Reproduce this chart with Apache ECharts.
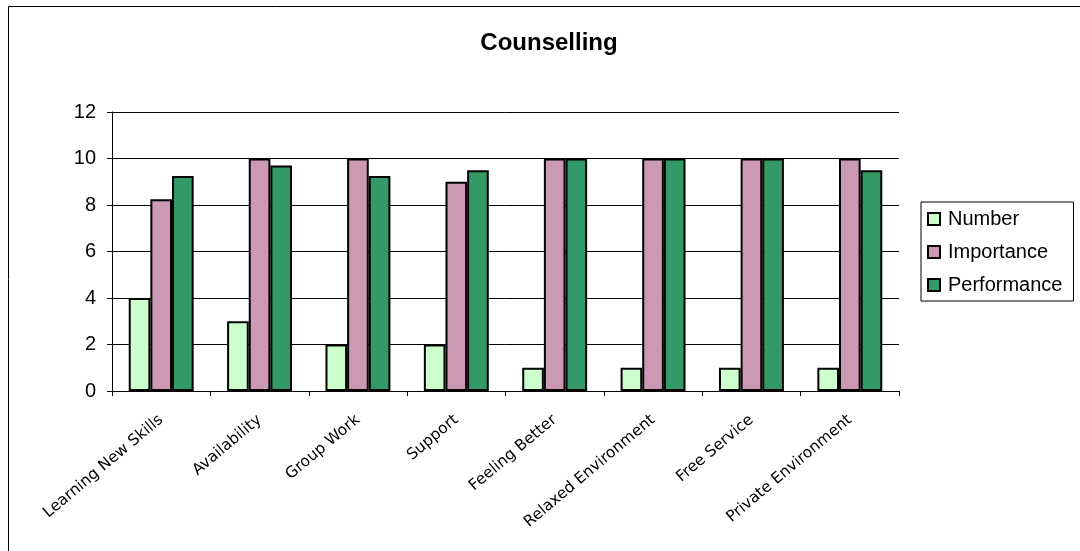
<!DOCTYPE html>
<html>
<head>
<meta charset="utf-8">
<title>Counselling</title>
<script src="https://cdn.jsdelivr.net/npm/echarts@6/dist/echarts.min.js"></script>
<style>
  html, body { margin: 0; padding: 0; background: #fff; }
  #main { width: 1080px; height: 551px; }
</style>
</head>
<body>
<div id="main"></div>
<script>
var categories = ['Learning New Skills', 'Availability', 'Group Work', 'Support',
  'Feeling Better', 'Relaxed Environment', 'Free Service', 'Private Environment'];
var numberValues = [4, 3, 2, 2, 1, 1, 1, 1];
var importanceValues = [8.25, 10, 10, 9, 10, 10, 10, 10];
var performanceValues = [9.25, 9.7, 9.25, 9.5, 10, 10, 10, 9.5];
var seriesNames = ['Number', 'Importance', 'Performance'];
var seriesColors = ['#CCFFCC', '#CC99B4', '#339966'];

var chart = echarts.init(document.getElementById('main'));

var allValues = [numberValues, importanceValues, performanceValues];
var series = seriesNames.map(function (name, i) {
  return {
    name: name,
    type: 'bar',
    data: allValues[i],
    barGap: '0%',
    barCategoryGap: '34%',
    itemStyle: { color: seriesColors[i], borderColor: '#000', borderWidth: 2 }
  };
});

chart.setOption({
  animation: false,
  title: {
    text: 'Counselling',
    left: 544,
    top: 26,
    textAlign: 'center',
    textStyle: { fontFamily: 'Liberation Sans', fontSize: 24, fontWeight: 'bold', color: '#000' }
  },
  graphic: [{
    type: 'rect',
    shape: { x: 8.5, y: 6.5, width: 1200, height: 700 },
    style: { fill: 'none', stroke: '#000', lineWidth: 1 },
    z: -1
  }],
  legend: {
    orient: 'vertical',
    left: 921,
    top: 202,
    itemWidth: 12,
    itemHeight: 12,
    itemGap: 13,
    padding: [7, 11, 6, 6],
    borderColor: '#000',
    borderWidth: 1,
    icon: 'rect',
    textStyle: { fontFamily: 'Liberation Sans', fontSize: 20, color: '#000', padding: [0, 0, 0, 3] },
    data: seriesNames
  },
  grid: { left: 112, right: 181, top: 112, bottom: 160, containLabel: false },
  xAxis: {
    type: 'category',
    data: categories,
    axisLine: { lineStyle: { color: '#000', width: 1 } },
    axisTick: { show: true, length: 5, lineStyle: { color: '#000' } },
    axisLabel: {
      rotate: 40,
      interval: 0,
      margin: 27,
      fontFamily: 'DejaVu Sans',
      fontSize: 15.5,
      color: '#000'
    }
  },
  yAxis: {
    type: 'value',
    min: 0,
    max: 12,
    interval: 2,
    axisLine: { show: true, lineStyle: { color: '#000', width: 1 } },
    axisTick: { show: true, length: 5, lineStyle: { color: '#000' } },
    axisLabel: { fontFamily: 'Liberation Sans', fontSize: 20, color: '#000', margin: 16 },
    splitLine: { show: true, lineStyle: { color: '#000', width: 1 } }
  },
  series: series
});
</script>
</body>
</html>
